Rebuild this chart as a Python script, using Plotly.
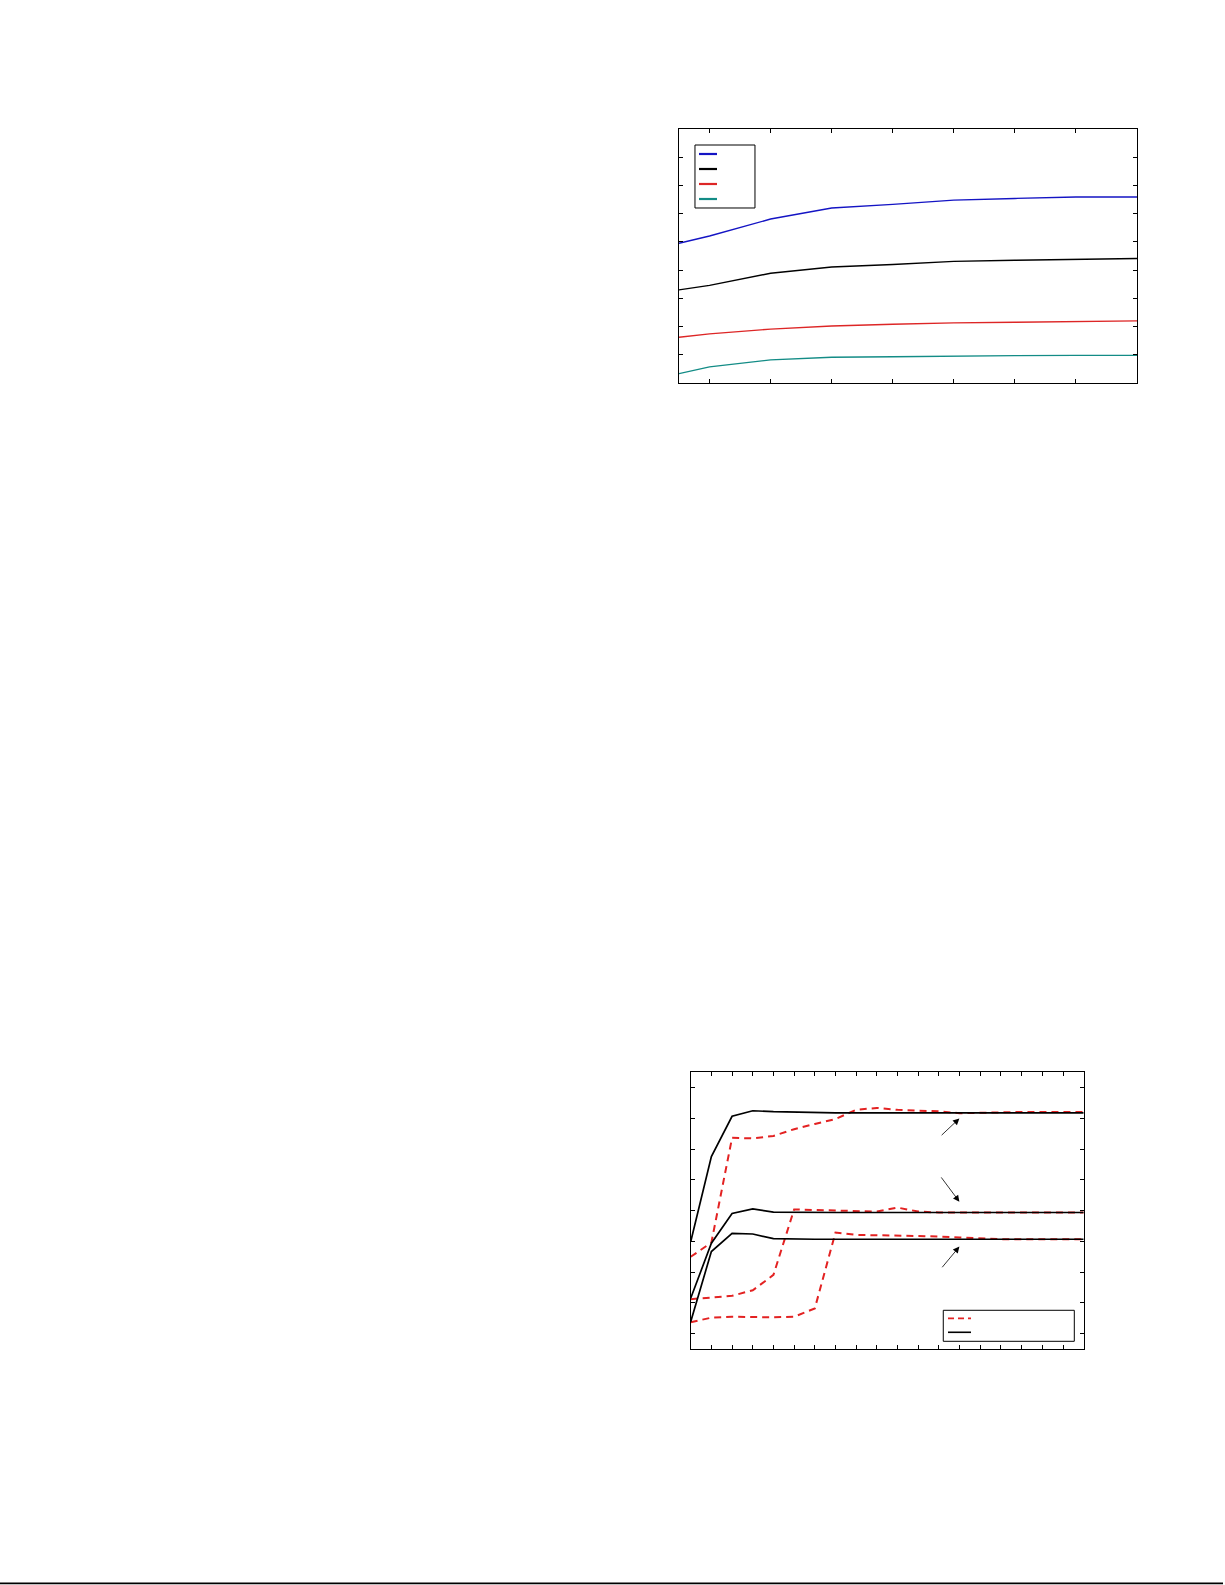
import plotly.graph_objects as go

# top chart: four growth curves
x_top = [0.5, 1, 2, 3, 4, 5, 6, 7, 8]
blue_vals = [4.95, 5.21, 5.81, 6.20, 6.33, 6.48, 6.54, 6.59, 6.59]
black_vals = [3.30, 3.46, 3.89, 4.11, 4.20, 4.31, 4.35, 4.37, 4.41]
red_vals = [1.62, 1.74, 1.91, 2.02, 2.08, 2.13, 2.15, 2.17, 2.20]
teal_vals = [0.33, 0.57, 0.82, 0.91, 0.93, 0.96, 0.97, 0.98, 0.98]
top_names = ["", "", "", ""]
top_colors = ["#1414c4", "#000000", "#dd2626", "#138c86"]

# bottom chart: dashed vs solid responses
x_bot = list(range(20))
solid_hi = [3.99, 6.76, 8.07, 8.25, 8.22, 8.20, 8.18, 8.18, 8.18, 8.18,
            8.18, 8.18, 8.18, 8.18, 8.18, 8.18, 8.18, 8.18, 8.18, 8.18]
dash_hi = [3.50, 3.96, 7.37, 7.35, 7.43, 7.65, 7.82, 7.98, 8.28, 8.34,
           8.28, 8.26, 8.23, 8.17, 8.19, 8.21, 8.21, 8.21, 8.21, 8.21]
solid_mid = [2.15, 3.94, 4.91, 5.06, 4.95, 4.94, 4.94, 4.94, 4.94, 4.94,
             4.94, 4.94, 4.94, 4.94, 4.94, 4.94, 4.94, 4.94, 4.94, 4.94]
dash_mid = [2.12, 2.18, 2.23, 2.41, 2.91, 5.04, 5.02, 5.00, 4.98, 4.97,
            5.10, 4.97, 4.94, 4.94, 4.94, 4.94, 4.94, 4.94, 4.94, 4.94]
solid_lo = [1.39, 3.67, 4.26, 4.24, 4.09, 4.07, 4.07, 4.07, 4.07, 4.07,
            4.07, 4.07, 4.07, 4.07, 4.07, 4.07, 4.07, 4.07, 4.07, 4.07]
dash_lo = [1.37, 1.52, 1.55, 1.53, 1.53, 1.55, 1.82, 4.29, 4.21, 4.20,
           4.19, 4.18, 4.16, 4.13, 4.09, 4.07, 4.07, 4.07, 4.07, 4.07]

# arrows in bottom chart: (tail x, tail y, head x, head y)
arrows = [(12.06, 7.41, 12.99, 8.00),
          (12.06, 6.13, 12.99, 5.29),
          (12.10, 3.11, 12.99, 3.83)]

fig = go.Figure()

for vals, col, nm in zip([blue_vals, black_vals, red_vals, teal_vals], top_colors, top_names):
    fig.add_trace(go.Scatter(x=x_top, y=vals, mode="lines", name=nm,
                             line=dict(color=col, width=1.4),
                             xaxis="x", yaxis="y", showlegend=False))

for vals in [dash_hi, dash_mid, dash_lo]:
    fig.add_trace(go.Scatter(x=x_bot, y=vals, mode="lines",
                             line=dict(color="#e32222", width=2, dash="7px,5px"),
                             xaxis="x2", yaxis="y2", showlegend=False))
for vals in [solid_hi, solid_mid, solid_lo]:
    fig.add_trace(go.Scatter(x=x_bot, y=vals, mode="lines",
                             line=dict(color="#000000", width=1.7),
                             xaxis="x2", yaxis="y2", showlegend=False))

ax_style = dict(showgrid=False, zeroline=False, showline=True, linecolor="black",
                linewidth=1, mirror="ticks", ticks="inside", ticklen=4,
                tickcolor="black", showticklabels=False)

fig.update_layout(
    width=1225, height=1585,
    margin=dict(l=0, r=0, t=0, b=0),
    paper_bgcolor="white", plot_bgcolor="white",
    hovermode=False,
    xaxis=dict(domain=[679 / 1225, 1137 / 1225], range=[0.5, 8], tick0=1, dtick=1,
               anchor="y", **ax_style),
    yaxis=dict(domain=[1 - 383 / 1585, 1 - 129 / 1585], range=[0, 9], dtick=1,
               anchor="x", **ax_style),
    xaxis2=dict(domain=[690.7 / 1225, 1083.7 / 1225], range=[0, 19], dtick=1,
                anchor="y2", **ax_style),
    yaxis2=dict(domain=[1 - 1349 / 1585, 1 - 1072.3 / 1585], range=[0.5, 9.5], tick0=1,
                dtick=1, anchor="x2", **ax_style),
)

shapes = []
# top legend box and sample lines
shapes.append(dict(type="rect", xref="x domain", yref="y domain",
                   x0=0.0349, x1=0.1659, y0=0.689, y1=0.937,
                   line=dict(color="black", width=1), fillcolor="white", layer="above"))
for col, yy in zip(top_colors, [0.9016, 0.8425, 0.7835, 0.7244]):
    shapes.append(dict(type="line", xref="x domain", yref="y domain",
                       x0=0.0437, x1=0.0830, y0=yy, y1=yy,
                       line=dict(color=col, width=2.2), layer="above"))
# bottom legend box and sample lines
shapes.append(dict(type="rect", xref="x2 domain", yref="y2 domain",
                   x0=0.6427, x1=0.9761, y0=0.0278, y1=0.1399,
                   line=dict(color="black", width=1), fillcolor="white", layer="above"))
shapes.append(dict(type="line", xref="x2 domain", yref="y2 domain",
                   x0=0.6547, x1=0.7132, y0=0.1110, y1=0.1110,
                   line=dict(color="#e32222", width=1.8, dash="6px,4px"), layer="above"))
shapes.append(dict(type="line", xref="x2 domain", yref="y2 domain",
                   x0=0.6547, x1=0.7132, y0=0.0604, y1=0.0604,
                   line=dict(color="black", width=1.6), layer="above"))
# rule at the bottom of the page
shapes.append(dict(type="line", xref="paper", yref="paper",
                   x0=0, x1=1223 / 1225, y0=1.6 / 1585, y1=1.6 / 1585,
                   line=dict(color="black", width=1.6)))
fig.update_layout(shapes=shapes)

for tx, ty, hx, hy in arrows:
    fig.add_annotation(x=hx, y=hy, ax=tx, ay=ty, xref="x2", yref="y2",
                       axref="x2", ayref="y2", text="", showarrow=True,
                       arrowhead=2, arrowsize=1.6, arrowwidth=0.8, arrowcolor="black")

# drop the default page margin so the figure sits at the window corner
fig.write_html("out.html", config={"displayModeBar": False},
               post_script="document.body.style.margin='0';document.body.style.overflow='hidden';")
